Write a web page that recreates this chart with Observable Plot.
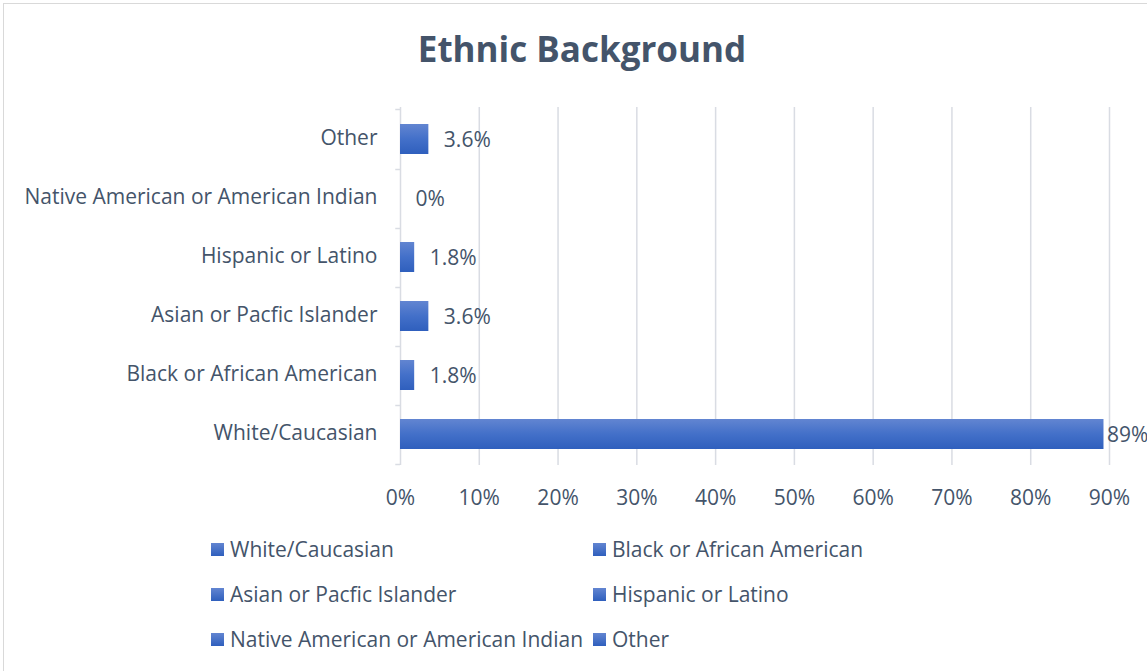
<!DOCTYPE html>
<html>
<head>
<meta charset="utf-8">
<script src="https://cdn.jsdelivr.net/npm/d3@7"></script>
<script src="https://cdn.jsdelivr.net/npm/@observablehq/plot@0.6"></script>
<style>
  html, body { margin: 0; padding: 0; background: #fff; overflow: hidden; }
  body { width: 1147px; height: 671px; position: relative; font-family: "Open Sans", Lato, sans-serif; color: #44546a; }
  #frame { position: absolute; left: 3px; top: 3px; width: 1160px; height: 680px; border: 1px solid #d9d9d9; box-sizing: border-box; }
  #title { position: absolute; left: 0; width: 1164px; top: 26px; text-align: center; font-size: 35px; font-weight: bold; line-height: 46px; }
  #chart { position: absolute; left: 0; top: 90px; }
  #legend { position: absolute; left: 0; top: 0; width: 1147px; height: 671px; pointer-events: none; }
  .li { position: absolute; font-size: 21px; line-height: 24px; white-space: nowrap; display: flex; align-items: center; }
  .sw { width: 13px; height: 13px; margin-right: 6px; background: linear-gradient(#6285d1, #2f5fbd); }
</style>
</head>
<body>
<div id="frame"></div>
<div id="title">Ethnic Background</div>
<div id="chart"></div>
<div id="legend"></div>
<script>
// Data (top to bottom order as displayed)
const categories = ["Other", "Native American or American Indian", "Hispanic or Latino", "Asian or Pacfic Islander", "Black or African American", "White/Caucasian"];
const values = [3.6, 0, 1.8, 3.6, 1.8, 89.3];
const valueLabels = ["3.6%", "0%", "1.8%", "3.6%", "1.8%", "89%"];
const xTicks = [0, 10, 20, 30, 40, 50, 60, 70, 80, 90];
const legendOrder = ["White/Caucasian", "Black or African American", "Asian or Pacfic Islander", "Hispanic or Latino", "Native American or American Indian", "Other"];

const data = categories.map((c, i) => ({category: c, value: values[i], label: valueLabels[i]}));
const textColor = "#44546a";
const gridColor = "#d9dce3";
const fontSize = 21;

const plot = Plot.plot({
  width: 1147,
  height: 430,
  marginLeft: 400,
  marginRight: 38,
  marginTop: 17,
  marginBottom: 55,
  style: {fontFamily: "'Open Sans', Lato, sans-serif", fontSize: fontSize + "px", color: textColor, background: "transparent", overflow: "visible"},
  x: {domain: [0, 90], label: null},
  y: {domain: categories, paddingInner: 0.5, paddingOuter: 0.25, label: null},
  marks: [
    Plot.gridX(xTicks, {stroke: gridColor, strokeOpacity: 1, strokeWidth: 1.5}),
    // category boundary ticks on the y axis
    Plot.ruleY(categories, {y: d => d, x1: -0.6, x2: 0, dy: 30, stroke: gridColor, strokeWidth: 1.5, clip: false}),
    Plot.ruleY([categories[0]], {y: d => d, x1: -0.6, x2: 0, dy: -30, stroke: gridColor, strokeWidth: 1.5, clip: false}),
    Plot.rectX(data, {y: "category", x: "value", fill: "url(#barGrad)"}),
    Plot.text(data.filter(d => d.value < 80), {y: "category", x: "value", text: "label", textAnchor: "start", dx: 15, dy: 1, fill: textColor, fontSize}),
    Plot.text(data.filter(d => d.value >= 80), {y: "category", x: "value", text: "label", textAnchor: "start", dx: 3, dy: 1, fill: textColor, fontSize}),
    Plot.axisX({ticks: xTicks, tickFormat: d => d + "%", tickSize: 0, tickPadding: 25, fill: textColor, fontSize}),
    Plot.axisY({tickSize: 0, tickPadding: 23, dy: -1, fill: textColor, fontSize})
  ]
});

// gradient definition for bars
const ns = "http://www.w3.org/2000/svg";
const defs = document.createElementNS(ns, "defs");
defs.innerHTML = '<linearGradient id="barGrad" x1="0" y1="0" x2="0" y2="1"><stop offset="0" stop-color="#6285d1"/><stop offset="0.5" stop-color="#4370c9"/><stop offset="1" stop-color="#2f5fbd"/></linearGradient>';
plot.insertBefore(defs, plot.firstChild);
document.getElementById("chart").appendChild(plot);

// legend
const legend = document.getElementById("legend");
const colX = [211, 593];
const rowY = [549, 594, 639];
legendOrder.forEach((name, i) => {
  const el = document.createElement("div");
  el.className = "li";
  el.style.left = colX[i % 2] + "px";
  el.style.top = (rowY[Math.floor(i / 2)] - 12) + "px";
  el.innerHTML = '<span class="sw"></span><span></span>';
  el.lastChild.textContent = name;
  legend.appendChild(el);
});
</script>
</body>
</html>
